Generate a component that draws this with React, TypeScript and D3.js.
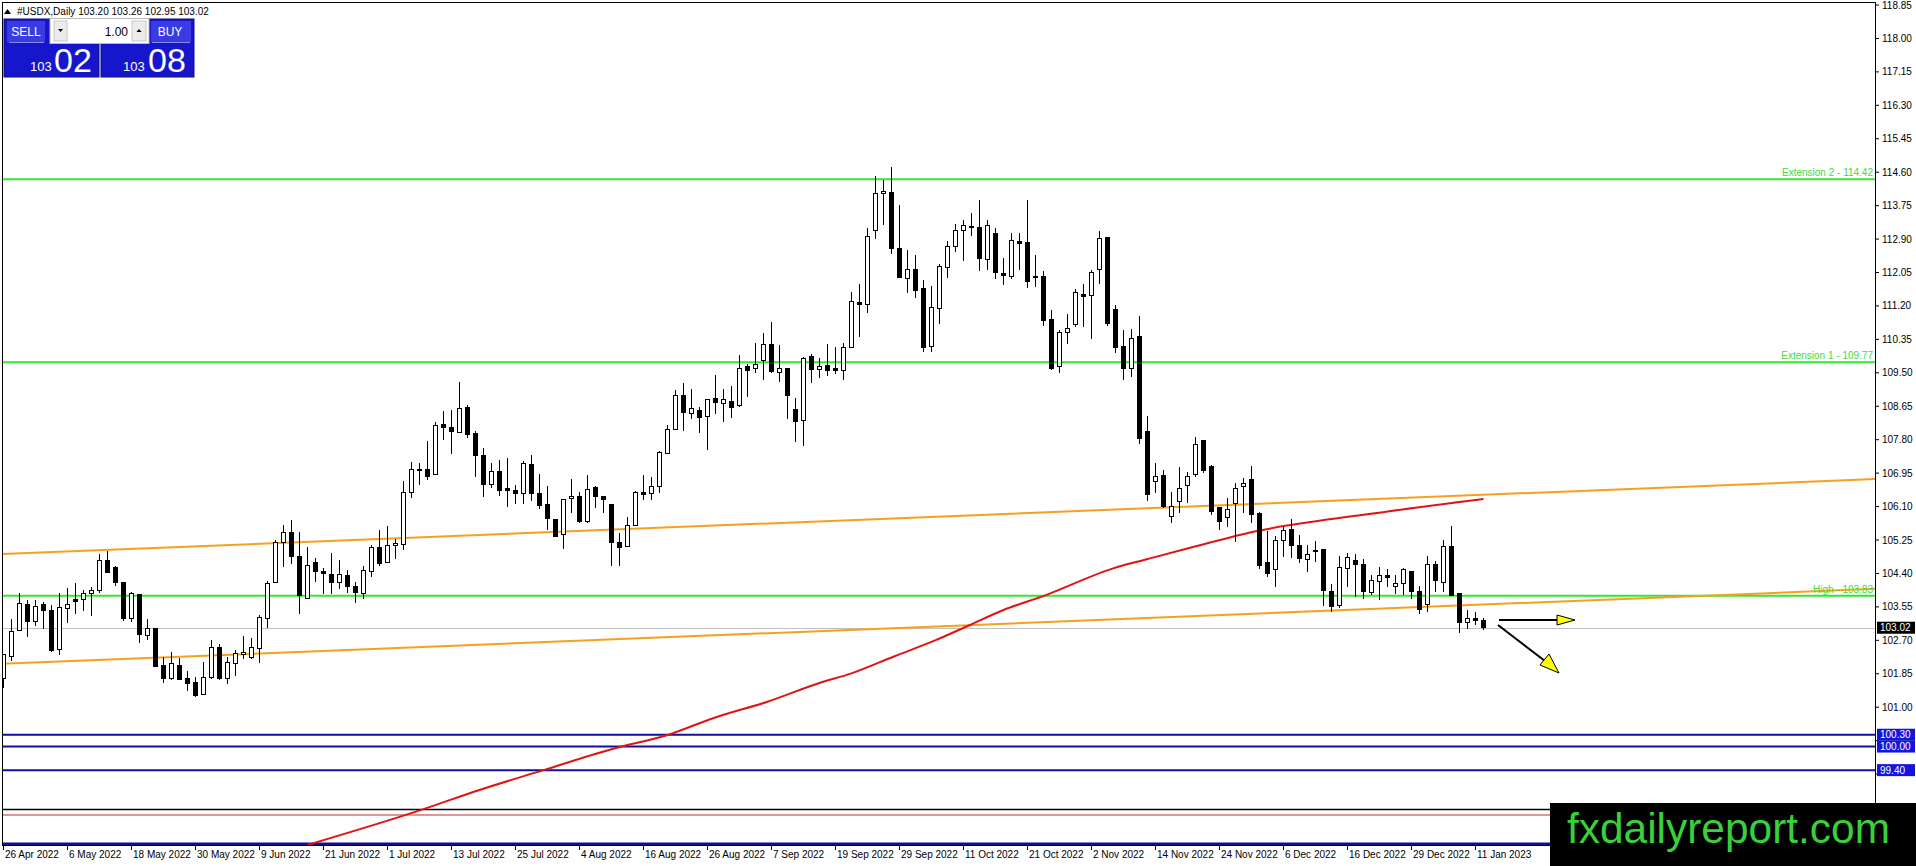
import * as d3 from "d3";

// #USDX daily candles, 26 Apr 2022 .. 12 Jan 2023 (one value per bar)
const opens = [
  101.73, 102.28, 102.95, 103.62, 103.17, 103.60, 103.45, 102.47, 103.51, 103.73,
  103.73, 103.90, 103.96, 104.72, 104.56, 104.18, 103.25, 103.87, 102.83, 103.01,
  102.05, 101.73, 102.06, 101.73, 101.64, 101.33, 101.76, 102.52, 101.72, 102.12,
  102.35, 102.27, 102.50, 103.26, 104.17, 105.18, 105.45, 104.84, 103.76, 104.67,
  104.44, 104.38, 104.17, 104.35, 104.08, 103.89, 104.45, 105.06, 104.68, 105.10,
  105.14, 106.46, 107.02, 107.03, 106.92, 108.19, 108.11, 107.99, 108.62, 107.96,
  107.39, 106.67, 107.00, 106.57, 106.51, 106.44, 107.17, 106.42, 106.14, 105.78,
  105.38, 106.30, 106.35, 105.72, 106.59, 106.35, 106.14, 105.19, 105.08, 105.62,
  106.46, 106.44, 106.62, 107.45, 108.06, 108.92, 108.47, 108.54, 108.39, 108.85,
  108.72, 108.78, 108.68, 109.66, 109.62, 109.81, 110.21, 109.50, 109.61, 108.57,
  108.30, 109.91, 109.59, 109.69, 109.61, 109.55, 110.15, 111.29, 111.24, 113.13,
  114.06, 114.09, 112.66, 111.91, 112.13, 111.65, 110.18, 111.14, 112.18, 112.71,
  113.11, 113.22, 113.20, 112.39, 113.05, 112.03, 111.94, 112.84, 112.82, 111.96,
  111.96, 110.86, 109.67, 110.53, 110.72, 111.50, 111.47, 112.13, 112.94, 111.10,
  110.17, 109.60, 110.42, 108.02, 106.73, 106.90, 105.86, 106.23, 106.63, 106.92,
  107.78, 107.11, 106.08, 105.83, 106.18, 106.61, 106.78, 105.93, 104.68, 104.49,
  105.23, 105.52, 105.12, 104.76, 104.96, 105.00, 103.95, 103.58, 104.53, 104.72,
  104.63, 103.91, 104.20, 104.35, 104.08, 104.15, 104.46, 103.95, 103.60, 104.63,
  104.17, 105.08, 103.88, 103.16, 103.26, 103.20,
];
const highs = [
  102.36, 103.24, 103.90, 103.73, 103.73, 103.67, 103.60, 103.90, 104.04, 104.15,
  103.98, 104.06, 104.89, 104.98, 104.60, 104.19, 103.92, 103.88, 103.24, 103.02,
  102.27, 102.41, 102.24, 101.92, 101.76, 102.16, 102.71, 102.61, 102.27, 102.45,
  102.81, 102.75, 103.34, 104.22, 105.25, 105.63, 105.76, 105.45, 105.06, 104.79,
  104.53, 104.93, 104.74, 104.49, 104.18, 104.59, 105.12, 105.50, 105.61, 105.28,
  106.75, 107.23, 107.20, 107.77, 108.25, 108.53, 108.55, 109.26, 108.68, 108.03,
  107.58, 107.22, 107.28, 107.33, 106.65, 107.26, 107.41, 106.94, 106.62, 105.79,
  106.29, 106.79, 106.46, 106.90, 106.63, 106.38, 106.15, 105.44, 105.84, 106.50,
  106.90, 106.86, 107.52, 108.17, 109.06, 109.23, 109.08, 108.64, 108.83, 109.45,
  109.09, 109.17, 109.95, 109.72, 110.25, 110.52, 110.78, 110.21, 109.62, 108.85,
  109.89, 109.98, 109.87, 110.23, 110.15, 110.25, 111.55, 111.77, 113.17, 114.50,
  114.40, 114.74, 113.77, 112.62, 112.49, 111.86, 111.71, 112.26, 112.85, 113.28,
  113.38, 113.57, 113.89, 113.38, 113.17, 112.41, 113.05, 113.05, 113.89, 112.49,
  112.10, 111.10, 110.59, 110.99, 111.63, 111.76, 112.11, 113.10, 112.95, 111.22,
  110.59, 110.61, 110.94, 108.40, 107.22, 107.03, 106.46, 107.11, 106.99, 107.88,
  107.79, 107.16, 106.09, 106.31, 106.69, 106.82, 107.13, 105.97, 105.48, 105.34,
  105.61, 105.78, 105.38, 105.12, 105.23, 105.01, 104.12, 104.84, 104.91, 104.89,
  104.76, 104.36, 104.56, 104.51, 104.36, 104.53, 104.47, 104.08, 104.84, 104.72,
  105.25, 105.61, 103.91, 103.47, 103.43, 103.26,
];
const lows = [
  101.48, 102.18, 102.93, 102.78, 103.07, 102.99, 102.41, 102.33, 103.15, 103.36,
  103.45, 103.33, 103.90, 104.41, 104.09, 103.20, 103.16, 102.62, 102.71, 102.01,
  101.61, 101.69, 101.70, 101.40, 101.27, 101.32, 101.71, 101.69, 101.59, 101.80,
  102.22, 102.23, 102.12, 103.01, 104.16, 104.57, 104.63, 103.37, 103.75, 104.19,
  103.88, 103.88, 104.00, 103.91, 103.64, 103.74, 104.32, 104.60, 104.67, 104.77,
  104.99, 106.33, 106.65, 106.78, 106.91, 107.79, 107.44, 107.98, 107.85, 106.84,
  106.35, 106.56, 106.38, 106.08, 106.16, 106.16, 106.23, 106.03, 105.50, 105.33,
  105.01, 105.93, 105.69, 105.67, 106.06, 105.93, 104.59, 104.59, 105.07, 105.61,
  106.27, 106.27, 106.45, 107.44, 108.05, 108.03, 108.32, 107.96, 107.54, 108.45,
  108.24, 108.34, 108.64, 108.89, 109.49, 109.32, 109.49, 109.27, 108.32, 107.75,
  107.64, 109.23, 109.38, 109.43, 109.47, 109.32, 110.12, 110.42, 111.03, 112.89,
  113.26, 112.52, 111.92, 111.54, 111.41, 110.02, 110.04, 110.73, 111.90, 112.58,
  112.35, 112.99, 112.10, 112.11, 111.88, 111.72, 111.88, 112.11, 111.65, 111.69,
  110.70, 109.57, 109.49, 110.23, 110.67, 110.67, 110.36, 111.77, 110.69, 110.01,
  109.33, 109.40, 107.69, 106.23, 106.44, 106.06, 105.67, 105.93, 106.18, 106.84,
  106.96, 105.89, 105.50, 105.59, 105.21, 105.93, 105.67, 104.51, 104.30, 104.05,
  104.81, 104.78, 104.67, 104.43, 104.70, 103.56, 103.41, 103.51, 104.05, 103.79,
  103.74, 103.85, 103.73, 104.06, 103.88, 103.85, 103.74, 103.36, 103.43, 103.94,
  103.94, 103.84, 102.89, 103.00, 103.09, 102.95,
];
const closes = [
  102.33, 102.93, 103.64, 103.17, 103.56, 103.47, 102.45, 103.54, 103.62, 103.68,
  103.90, 103.96, 104.74, 104.43, 104.17, 103.25, 103.90, 102.85, 103.01, 102.03,
  101.73, 102.10, 101.71, 101.61, 101.31, 101.76, 102.52, 101.72, 102.14, 102.37,
  102.39, 102.52, 103.29, 104.15, 105.18, 105.45, 104.83, 103.83, 104.61, 104.45,
  104.40, 104.17, 104.38, 104.07, 103.91, 104.47, 105.06, 104.66, 105.10, 105.15,
  106.46, 107.05, 107.05, 106.86, 108.17, 108.11, 108.00, 108.60, 107.94, 107.39,
  106.67, 107.00, 106.52, 106.50, 106.44, 107.20, 106.44, 106.13, 105.80, 105.35,
  106.28, 106.36, 105.72, 106.54, 106.35, 106.28, 105.18, 105.05, 105.62, 106.46,
  106.41, 106.62, 107.48, 108.06, 108.92, 108.50, 108.59, 108.37, 108.81, 108.74,
  108.81, 108.62, 109.61, 109.55, 109.70, 110.21, 109.53, 109.61, 108.92, 108.26,
  109.87, 109.59, 109.66, 109.57, 109.55, 110.15, 111.31, 111.24, 112.96, 114.06,
  114.11, 112.66, 111.93, 112.13, 111.60, 110.15, 111.16, 112.20, 112.71, 113.11,
  113.24, 113.23, 112.41, 113.24, 112.05, 111.97, 112.86, 112.79, 111.82, 111.94,
  110.83, 109.61, 110.53, 110.63, 111.55, 111.45, 112.05, 112.92, 110.76, 110.15,
  109.60, 110.38, 107.84, 106.40, 106.86, 106.11, 106.10, 106.55, 106.86, 107.69,
  107.01, 105.97, 105.72, 106.03, 106.56, 106.69, 105.91, 104.60, 104.40, 105.23,
  105.50, 105.11, 104.77, 104.89, 104.98, 103.96, 103.56, 104.56, 104.81, 104.63,
  103.94, 104.23, 104.35, 104.30, 104.15, 104.49, 103.94, 103.49, 104.63, 104.22,
  105.08, 103.85, 103.15, 103.26, 103.20, 103.02,
];

// x-axis date labels, one every 8 bars
const dateLabels = [
  "26 Apr 2022", "6 May 2022", "18 May 2022", "30 May 2022", "9 Jun 2022", "21 Jun 2022",
  "1 Jul 2022", "13 Jul 2022", "25 Jul 2022", "4 Aug 2022", "16 Aug 2022", "26 Aug 2022",
  "7 Sep 2022", "19 Sep 2022", "29 Sep 2022", "11 Oct 2022", "21 Oct 2022", "2 Nov 2022",
  "14 Nov 2022", "24 Nov 2022", "6 Dec 2022", "16 Dec 2022", "29 Dec 2022", "11 Jan 2023",
];
const dateStep = 8;

// price scale ticks (lower ones sit under the watermark)
const priceTicks = [
  118.85, 118.0, 117.15, 116.3, 115.45, 114.6, 113.75, 112.9, 112.05, 111.2, 110.35,
  109.5, 108.65, 107.8, 106.95, 106.1, 105.25, 104.4, 103.55, 102.7, 101.85, 101.0,
  100.15, 99.3,
];

// moving average, [bar, value]
const maPoints: [number, number][] = [
  [38, 97.5], [52.5, 98.41], [59.4, 98.89], [67.5, 99.4], [76, 99.93], [83.4, 100.32],
  [88.7, 100.72], [95.5, 101.14], [101.9, 101.61], [106, 101.86], [111.3, 102.29],
  [116.6, 102.71], [120.8, 103.09], [125, 103.47], [130.3, 103.85], [138.7, 104.53],
  [142.9, 104.76], [148.1, 105.04], [157, 105.49], [170, 105.89], [185, 106.29],
];

// trend channel (orange rays): value at bar 0 and at bar 185
const channelUpper = [104.894, 106.4];
const channelLower = [102.104, 103.61];

const greenLevels = [
  { v: 114.42, label: "Extension 2 - 114.42" },
  { v: 109.77, label: "Extension 1 - 109.77" },
  { v: 103.835, label: "High - 103.83" },
];
const blueLevels = [100.3, 100.0, 99.4];
const blueTags = ["100.30", "100.00", "99.40"];
const bottomBlue = 97.52;
const blackLevel = 98.4;
const brownLevel = 98.26;
const lastPrice = 103.02;

const W = 1916;
const H = 866;
const plotLeft = 2;
const plotTop = 2;
const plotRight = 1875;
const plotBottom = 845;
const FONT = "'Liberation Sans', Arial, sans-serif";

export default function App() {
  const n = closes.length;
  const x = d3.scaleLinear([0, n - 1], [3.5, 3.5 + 8 * (n - 1)]);
  const y = d3.scaleLinear([118.85, 101], [5, 707.2]);

  const ma = d3
    .line<[number, number]>()
    .x((d) => x(d[0]))
    .y((d) => y(d[1]))
    .curve(d3.curveMonotoneX);

  // orange ray from left edge to price axis
  const ray = (vals: number[]) => {
    const v = d3.scaleLinear([0, n - 1], vals);
    const b0 = x.invert(plotLeft);
    const b1 = x.invert(plotRight);
    return { x1: plotLeft, y1: y(v(b0)), x2: plotRight, y2: y(v(b1)) };
  };
  const up = ray(channelUpper);
  const lo = ray(channelLower);

  // axis tags hide the tick labels under them
  const tagYs = [...blueLevels, lastPrice].map((v) => y(v));
  const hidden = (t: number) => tagYs.some((ty) => Math.abs(ty - y(t)) < 11);

  return (
    <div style={{ position: "absolute", left: 0, top: 0, width: W, height: H, overflow: "hidden", background: "#fff" }}>
      <svg width={W} height={H} style={{ display: "block" }} fontFamily={FONT}>
        <defs>
          <clipPath id="plot">
            <rect x={plotLeft} y={plotTop} width={plotRight - plotLeft} height={plotBottom - plotTop} />
          </clipPath>
        </defs>
        <rect width={W} height={H} fill="#fff" />

        <g clipPath="url(#plot)">
          {/* horizontal levels */}
          <line x1={0} x2={plotRight} y1={Math.round(y(lastPrice)) + 0.5} y2={Math.round(y(lastPrice)) + 0.5} stroke="#c0c0c0" strokeWidth={1} />
          <line x1={0} x2={plotRight} y1={y(blackLevel)} y2={y(blackLevel)} stroke="#000" strokeWidth={1.5} />
          <line x1={0} x2={plotRight} y1={y(brownLevel)} y2={y(brownLevel)} stroke="#b83030" strokeWidth={1} />
          {blueLevels.map((v) => (
            <line key={v} x1={0} x2={plotRight} y1={y(v)} y2={y(v)} stroke="#1010a0" strokeWidth={2} />
          ))}
          <line x1={0} x2={plotRight} y1={y(bottomBlue)} y2={y(bottomBlue)} stroke="#10108c" strokeWidth={3} />
          {greenLevels.map((g) => (
            <line key={g.v} x1={0} x2={plotRight} y1={y(g.v)} y2={y(g.v)} stroke="#33e633" strokeWidth={2} />
          ))}

          {/* orange channel */}
          <line {...up} stroke="#f5a11e" strokeWidth={2} />
          <line {...lo} stroke="#f5a11e" strokeWidth={2} />

          {/* moving average */}
          <path d={ma(maPoints) || undefined} fill="none" stroke="#e01414" strokeWidth={2} />

          {/* candles */}
          <g shapeRendering="crispEdges">
            {closes.map((c, i) => {
              const o = opens[i];
              const cx = x(i);
              const top = Math.min(y(o), y(c));
              const h = Math.max(1, Math.abs(y(o) - y(c)));
              const bull = c >= o;
              return (
                <g key={i}>
                  <line x1={cx} x2={cx} y1={y(highs[i])} y2={y(lows[i])} stroke="#000" strokeWidth={1} />
                  <rect x={cx - 2} y={top} width={4} height={h} fill={bull ? "#fff" : "#000"} stroke="#000" strokeWidth={1} />
                </g>
              );
            })}
          </g>

          {/* level captions */}
          {greenLevels.map((g) => (
            <text key={g.label} x={plotRight - 2} y={y(g.v) - 3} textAnchor="end" fontSize={10} fill="#3ddc3d">
              {g.label}
            </text>
          ))}

          {/* arrows */}
          <g stroke="#000" strokeWidth={2}>
            <line x1={1499} y1={620} x2={1558} y2={620} />
            <line x1={1498} y1={625} x2={1545} y2={661} />
          </g>
          <polygon points="1557,615 1575,620 1557,625" fill="#ffff00" stroke="#000" strokeWidth={1} />
          <polygon points="1540,665 1549,654 1559,673" fill="#ffff00" stroke="#000" strokeWidth={1} />
        </g>

        {/* frame */}
        <rect x={plotLeft + 0.5} y={plotTop + 0.5} width={plotRight - plotLeft} height={plotBottom - plotTop} fill="none" stroke="#000" strokeWidth={1} />

        {/* price axis */}
        <g fontSize={10} fill="#000">
          {priceTicks.map((t) => (
            <g key={t}>
              <line x1={plotRight} x2={plotRight + 4} y1={y(t)} y2={y(t)} stroke="#000" />
              {!hidden(t) && (
                <text x={plotRight + 7} y={y(t) + 3.5}>
                  {t.toFixed(2)}
                </text>
              )}
            </g>
          ))}
        </g>
        {blueLevels.map((v, i) => (
          <g key={v}>
            <rect x={plotRight + 2} y={y(v) - 6} width={38} height={12} fill="#1414dc" />
            <text x={plotRight + 5} y={y(v) + 3.5} fontSize={10} fill="#fff">
              {blueTags[i]}
            </text>
          </g>
        ))}
        <rect x={plotRight + 2} y={y(lastPrice) - 6} width={38} height={12} fill="#000" />
        <text x={plotRight + 5} y={y(lastPrice) + 3.5} fontSize={10} fill="#fff">
          {lastPrice.toFixed(2)}
        </text>

        {/* time axis */}
        <g fontSize={10} fill="#000">
          {dateLabels.map((d, k) => {
            const tx = Math.round(x(k * dateStep) - 1) + 0.5;
            return (
              <g key={d}>
                <line x1={tx} x2={tx} y1={plotBottom} y2={plotBottom + 5} stroke="#000" />
                <text x={tx + 1.5} y={858}>
                  {d}
                </text>
              </g>
            );
          })}
        </g>

        {/* header */}
        <polygon points="4,14 7.5,9 11,14" fill="#000" />
        <text x={17} y={15} fontSize={10} fill="#000">
          #USDX,Daily  103.20 103.26 102.95 103.02
        </text>

        {/* one-click trading panel */}
        <g>
          <rect x={4} y={19} width={95} height={58} fill="#1616cc" stroke="#0c0c7a" />
          <rect x={101} y={19} width={93} height={58} fill="#1616cc" stroke="#0c0c7a" />
          <rect x={7} y={21} width={38} height={21} fill="#3b3be4" />
          <line x1={9} x2={44} y1={42.5} y2={42.5} stroke="#8a8af0" />
          <text x={26} y={36} fontSize={12} fill="#fff" textAnchor="middle">SELL</text>
          <rect x={50} y={18.5} width={99} height={25} fill="#fff" stroke="#b8b8b8" />
          <rect x={54} y={21} width={13} height={20} fill="#ececec" stroke="#c8c8c8" />
          <polygon points="58,29 63,29 60.5,32" fill="#000" />
          <text x={128} y={36} fontSize={12} fill="#000" textAnchor="end">1.00</text>
          <rect x={132} y={21} width={14} height={20} fill="#ececec" stroke="#c8c8c8" />
          <polygon points="136.5,32 141.5,32 139,29" fill="#000" />
          <rect x={151} y={21} width={40} height={21} fill="#3b3be4" />
          <line x1={152} x2={190} y1={42.5} y2={42.5} stroke="#8a8af0" />
          <text x={170} y={36} fontSize={12} fill="#fff" textAnchor="middle">BUY</text>
          <text x={30} y={71} fontSize={13} fill="#fff">103</text>
          <text x={54} y={72} fontSize={34} fill="#fff">02</text>
          <text x={123} y={71} fontSize={13} fill="#fff">103</text>
          <text x={148} y={72} fontSize={34} fill="#fff">08</text>
        </g>

        {/* watermark */}
        <rect x={1550} y={803} width={366} height={63} fill="#000" />
        <text x={1567} y={843} fontSize={42} fill="#39d039" textLength={323} lengthAdjust="spacingAndGlyphs">
          fxdailyreport.com
        </text>
      </svg>
    </div>
  );
}
